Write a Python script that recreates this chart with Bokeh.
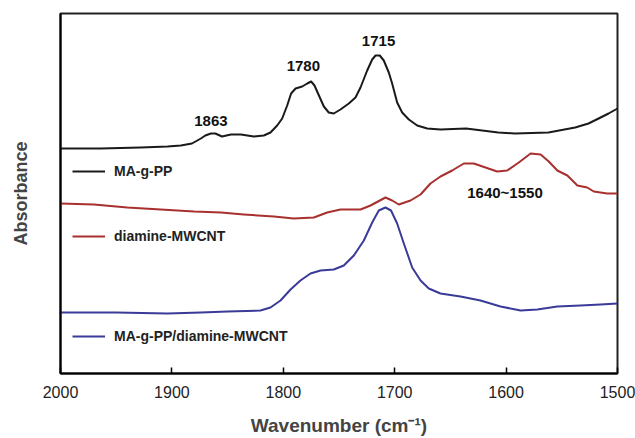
from bokeh.plotting import figure
from bokeh.models import Range1d, FixedTicker, Legend, LegendItem, Label
from bokeh.embed import file_html
from bokeh.resources import INLINE

# ---- data ----
ma_wn = [2000, 1964, 1928, 1904, 1892, 1882, 1874, 1870, 1865, 1861, 1855, 1847, 1838, 1826.5,
         1817.5, 1811.5, 1805.5, 1801, 1796.5, 1793, 1789, 1783, 1778.5, 1775, 1772, 1768,
         1763.6, 1759.2, 1754.7, 1748.7, 1741.2, 1735.2, 1730.7, 1724.7, 1720.2, 1717.2,
         1713.4, 1709.8, 1705.3, 1702.3, 1697.8, 1693.3, 1687.3, 1679.8, 1670.8, 1659,
         1636, 1607, 1592, 1562, 1538, 1526, 1517, 1508, 1500]
ma_abs = [2.25, 2.25, 2.26, 2.27, 2.28, 2.30, 2.35, 2.38, 2.40, 2.40, 2.37, 2.39, 2.39, 2.37,
          2.38, 2.41, 2.48, 2.55, 2.68, 2.80, 2.85, 2.87, 2.90, 2.92, 2.88, 2.78,
          2.67, 2.61, 2.60, 2.64, 2.70, 2.76, 2.86, 3.03, 3.14, 3.18,
          3.18, 3.13, 3.01, 2.90, 2.71, 2.61, 2.54, 2.48, 2.45, 2.44,
          2.45, 2.41, 2.40, 2.41, 2.46, 2.50, 2.55, 2.60, 2.65]

dm_wn = [2000, 1970, 1940, 1910, 1880, 1856, 1835.5, 1808.5, 1790.6, 1772.6, 1760.6, 1748.7,
         1730.7, 1721.7, 1708.3, 1702.3, 1696.3, 1685.8, 1676.8, 1667.9, 1658.9, 1648.4,
         1638, 1629, 1618.5, 1608, 1599, 1588.6, 1578, 1569, 1561.7, 1554, 1545, 1536,
         1527.2, 1521.3, 1509.3, 1500]
dm_abs = [1.70, 1.69, 1.66, 1.64, 1.62, 1.61, 1.59, 1.57, 1.55, 1.56, 1.61, 1.64,
          1.64, 1.68, 1.76, 1.73, 1.69, 1.73, 1.79, 1.90, 1.97, 2.03,
          2.10, 2.10, 2.06, 2.02, 2.03, 2.11, 2.20, 2.19, 2.12, 2.03, 1.98, 1.88,
          1.86, 1.82, 1.80, 1.80]

mix_wn = [2000, 1950, 1904, 1874, 1850, 1820.5, 1811.5, 1802.5, 1793.5, 1784.6, 1775.6,
          1766.6, 1754.7, 1745.7, 1736.7, 1727.7, 1720.2, 1714.3, 1708.3, 1703.3, 1697.8,
          1691.8, 1684.3, 1676.8, 1669.4, 1658.9, 1647, 1640.9, 1623, 1605, 1587, 1572,
          1554, 1533.2, 1515.3, 1500]
mix_abs = [0.61, 0.61, 0.60, 0.61, 0.62, 0.63, 0.66, 0.73, 0.84, 0.93, 1.00,
           1.03, 1.04, 1.08, 1.18, 1.33, 1.51, 1.63, 1.66, 1.63, 1.50,
           1.30, 1.06, 0.93, 0.85, 0.80, 0.78, 0.77, 0.73, 0.67, 0.63, 0.64,
           0.67, 0.68, 0.69, 0.70]

series_names = ["MA-g-PP", "diamine-MWCNT", "MA-g-PP/diamine-MWCNT"]
series_colors = ["#1a1a1a", "#a8302e", "#3a3a98"]

peak_labels = ["1863", "1780", "1715", "1640~1550"]
peak_x = [1865, 1782, 1714.5, 1601]
peak_y = [2.53, 3.08, 3.33, 1.81]

x_ticks = [2000, 1900, 1800, 1700, 1600, 1500]

FONT = "Liberation Sans"

p = figure(width=635, height=438, output_backend="svg", toolbar_location=None,
           x_range=Range1d(2000, 1500), y_range=Range1d(0, 3.6),
           min_border_left=60, min_border_right=18, min_border_top=13, min_border_bottom=65)

p.xgrid.visible = False
p.ygrid.visible = False
p.outline_line_color = "#222222"
p.outline_line_width = 2
p.background_fill_color = "white"
p.border_fill_color = "white"

xa = p.xaxis[0]
xa.ticker = FixedTicker(ticks=x_ticks)
xa.major_tick_in = 6
xa.major_tick_out = 0
xa.minor_tick_line_color = None
xa.axis_line_width = 2
xa.major_tick_line_width = 1.5
xa.major_label_text_font = FONT
xa.major_label_text_font_size = "16px"
xa.major_label_text_color = "#222222"
xa.major_label_standoff = 12
xa.axis_label = "Wavenumber (cm\u207b\u00b9)"
xa.axis_label_text_font = FONT
xa.axis_label_text_font_style = "bold"
xa.axis_label_text_font_size = "19px"
xa.axis_label_standoff = 14

ya = p.yaxis[0]
ya.ticker = FixedTicker(ticks=[])
ya.minor_tick_line_color = None
ya.axis_line_width = 2
ya.axis_label = "Absorbance"
ya.axis_label_text_font = FONT
ya.axis_label_text_font_style = "bold"
ya.axis_label_text_font_size = "18px"
ya.axis_label_standoff = 30

renderers = []
for wn, ab, c in zip([ma_wn, dm_wn, mix_wn], [ma_abs, dm_abs, mix_abs], series_colors):
    r = p.line(wn, ab, line_color=c, line_width=2, line_join="round")
    renderers.append(r)

legend_y = [194, 129, 29]
for name, r, ly in zip(series_names, renderers, legend_y):
    lg = Legend(items=[LegendItem(label=name, renderers=[r])], location=(12, ly),
                glyph_width=33, glyph_height=16, label_height=16, label_standoff=9,
                padding=0, margin=0, border_line_alpha=0, background_fill_alpha=0,
                label_text_font=FONT, label_text_font_style="bold",
                label_text_font_size="14px", label_text_color="#222222")
    p.add_layout(lg, "center")

for t, x, y in zip(peak_labels, peak_x, peak_y):
    p.add_layout(Label(x=x, y=y, text=t, text_align="center", text_baseline="middle",
                       text_font=FONT, text_font_style="bold", text_font_size="15px",
                       text_color="#111111"))

open("out.html", "w").write(file_html(p, INLINE))
